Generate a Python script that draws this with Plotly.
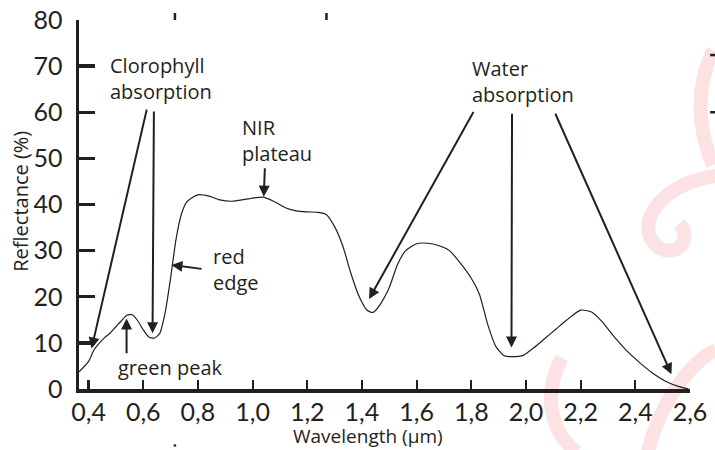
import plotly.graph_objects as go

# ---- data ----
wavelength = [0.365, 0.40, 0.42, 0.44, 0.46, 0.48, 0.50, 0.52, 0.54, 0.56, 0.58, 0.60, 0.62,
              0.64, 0.66, 0.68, 0.70, 0.72, 0.74, 0.76, 0.78, 0.80, 0.84, 0.88, 0.92, 0.96,
              1.00, 1.04, 1.08, 1.12, 1.16, 1.20, 1.24, 1.27, 1.30, 1.33, 1.36, 1.39, 1.42,
              1.44, 1.465, 1.50, 1.53, 1.56, 1.60, 1.64, 1.68, 1.72, 1.76, 1.80, 1.83, 1.86,
              1.89, 1.92, 1.95, 1.99, 2.03, 2.07, 2.11, 2.15, 2.20, 2.24, 2.28, 2.32, 2.37,
              2.42, 2.46, 2.52, 2.56, 2.595]
reflectance = [3.7, 6.0, 8.5, 10.0, 11.2, 12.2, 13.5, 14.8, 16.0, 16.1, 14.8, 12.8, 11.3,
               11.0, 12.0, 16.5, 24.0, 32.5, 38.0, 40.6, 41.5, 42.1, 41.8, 41.0, 40.7, 41.0,
               41.4, 41.6, 40.6, 39.3, 38.6, 38.4, 38.3, 37.8, 35.2, 31.0, 25.0, 20.0, 17.0,
               16.6, 18.2, 22.0, 27.0, 30.0, 31.5, 31.6, 31.1, 30.0, 27.3, 24.0, 20.5, 14.0,
               9.2, 7.2, 7.0, 7.3, 9.0, 11.0, 13.0, 15.0, 17.1, 16.7, 14.5, 11.5, 8.2,
               5.5, 3.6, 1.4, 0.5, 0.0]

x_tick_vals = [0.4, 0.6, 0.8, 1.0, 1.2, 1.4, 1.6, 1.8, 2.0, 2.2, 2.4, 2.6]
x_tick_text = ["0,4", "0,6", "0,8", "1,0", "1,2", "1,4", "1,6", "1,8", "2,0", "2,2", "2,4", "2,6"]
y_tick_vals = [0, 10, 20, 30, 40, 50, 60, 70, 80]

# labels: text, left x, centre y
labels = [
    ("Clorophyll<br>absorption", 0.471, 67.4),
    ("NIR<br>plateau", 0.953, 53.9),
    ("red<br>edge", 0.849, 26.0),
    ("green peak", 0.50, 4.6),
    ("Water<br>absorption", 1.794, 66.6),
]
# arrows: tip x, tip y, tail x, tail y
arrows = [
    (0.411, 8.8, 0.614, 60.9),
    (0.634, 12.1, 0.639, 60.5),
    (0.539, 15.3, 0.539, 7.4),
    (0.703, 26.9, 0.819, 26.0),
    (1.041, 41.7, 1.045, 48.2),
    (1.426, 19.5, 1.811, 60.4),
    (1.947, 9.0, 1.949, 60.0),
    (2.532, 3.2, 2.105, 60.0),
]

INK = "#231f20"
TICKFONT = dict(family="Liberation Sans Narrow, Arial Narrow, Lato, sans-serif", size=25, color=INK)
TEXTFONT = dict(family="Open Sans, Noto Sans, sans-serif", size=20, color=INK)
TITLEFONT = dict(family="Open Sans, Noto Sans, sans-serif", size=19, color=INK)

W, H = 715, 450
ML, MR, MT, MB = 79, 25, 20, 61
PW, PH = W - ML - MR, H - MT - MB


def px_path(cmds):
    """Convert a path written in page pixels into paper coordinates."""
    out = []
    for c in cmds:
        if isinstance(c, str):
            out.append(c)
        else:
            px, py = c
            out.append(f"{(px - ML) / PW:.4f},{(H - MB - py) / PH:.4f}")
    return " ".join(out)


fig = go.Figure()

# faint pink watermark swirls of the scanned original
watermark = [
    ["M", (713, 50), "Q", (688, 105), (713, 165)],
    ["M", (716, 176), "C", (660, 183), (632, 226), (658, 247), "C", (676, 259), (694, 238), (679, 224)],
    ["M", (562, 358), "C", (543, 392), (549, 432), (577, 452)],
    ["M", (648, 452), "C", (660, 402), (690, 362), (716, 350)],
]
for p in watermark:
    fig.add_shape(type="path", xref="paper", yref="paper", path=px_path(p), layer="below",
                  line=dict(color="rgba(245,160,160,0.3)", width=14))

fig.add_trace(go.Scatter(x=wavelength, y=reflectance, mode="lines",
                         line=dict(color=INK, width=1.2, shape="spline", smoothing=0.6),
                         hoverinfo="skip", showlegend=False))

for txt, lx, cy in labels:
    fig.add_annotation(x=lx, y=cy, xref="x", yref="y", text=txt, showarrow=False,
                       xanchor="left", yanchor="middle", align="left", font=TEXTFONT)

for tx, ty, sx, sy in arrows:
    fig.add_annotation(x=tx, y=ty, ax=sx, ay=sy, xref="x", yref="y", axref="x", ayref="y",
                       text="", showarrow=True, arrowhead=2, arrowsize=1.1, arrowwidth=2,
                       arrowcolor=INK, standoff=0, startstandoff=0)

# axis titles
fig.add_annotation(x=0.473, y=(H - MB - 450) / PH, xref="paper", yref="paper",
                   text="Wavelength (µm)", showarrow=False, xanchor="center", yanchor="bottom",
                   font=TITLEFONT, borderpad=0)
fig.add_annotation(x=-0.095, y=0.51, xref="paper", yref="paper", text="Reflectance (%)",
                   showarrow=False, textangle=-90, xanchor="center", yanchor="middle", font=TEXTFONT)

# small stray marks of the scanned original
for (x0, y0, x1, y1) in [(0.157, 1.0, 0.157, 1.019), (0.405, 1.0, 0.405, 1.019),
                         (1.033, 0.905, 1.045, 0.905), (1.033, 0.75, 1.045, 0.75),
                         (0.157, -0.150, 0.157, -0.156)]:
    fig.add_shape(type="line", xref="paper", yref="paper", x0=x0, y0=y0, x1=x1, y1=y1,
                  line=dict(color=INK, width=2.5))

fig.update_layout(
    width=W, height=H,
    margin=dict(l=ML, r=MR, t=MT, b=MB),
    paper_bgcolor="white", plot_bgcolor="white",
    xaxis=dict(range=[0.365, 2.6], tickvals=x_tick_vals, ticktext=x_tick_text, automargin=False,
               showgrid=False, zeroline=False, showline=True, linecolor=INK, linewidth=3.5,
               ticks="inside", ticklen=9, tickwidth=2.2, tickcolor=INK,
               tickfont=TICKFONT, ticklabelstandoff=-2),
    yaxis=dict(range=[0, 80], tickvals=y_tick_vals, automargin=False,
               showgrid=False, zeroline=False, showline=True, linecolor=INK, linewidth=3.5,
               ticks="inside", ticklen=16, tickwidth=3.3, tickcolor=INK,
               tickfont=TICKFONT, ticklabelstandoff=8),
)

fig.write_html("out.html", config={"displayModeBar": False, "staticPlot": True},
               post_script="document.body.style.margin='0px';"
                           "document.documentElement.style.overflow='hidden';")
